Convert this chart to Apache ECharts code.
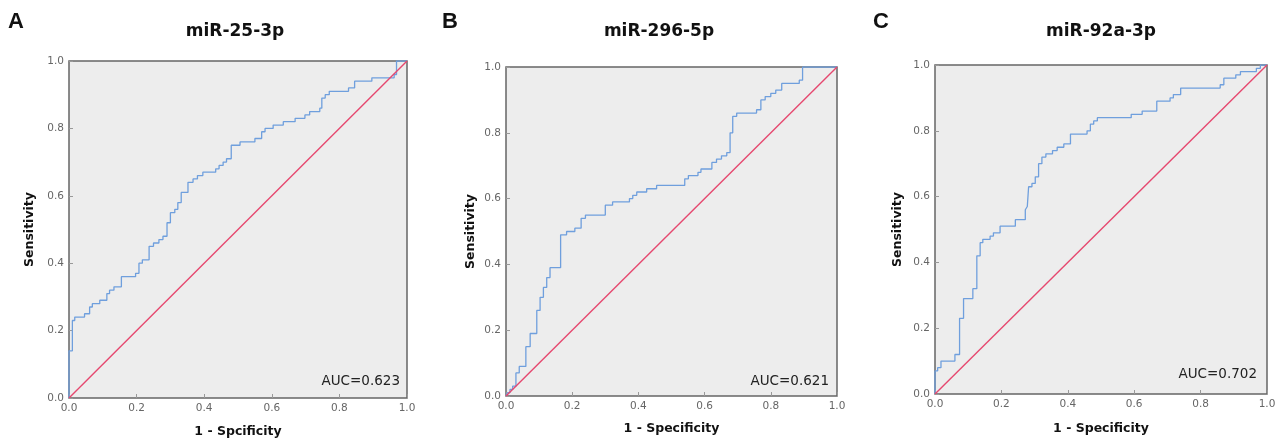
<!DOCTYPE html>
<html><head><meta charset="utf-8">
<script src="https://cdn.jsdelivr.net/npm/echarts@6/dist/echarts.min.js"></script>
<style>html,body{margin:0;padding:0;background:#fff}#c{width:1282px;height:443px}</style>
</head><body><div id="c"></div>
<script>
// ---- data ----
const fprA = [0, 0, 0.010, 0.017, 0.046, 0.061, 0.069, 0.091, 0.112, 0.120,
  0.133, 0.155, 0.197, 0.207, 0.217, 0.237, 0.250, 0.266, 0.278, 0.290,
  0.300, 0.313, 0.322, 0.332, 0.352, 0.367, 0.380, 0.396, 0.434, 0.444,
  0.456, 0.466, 0.480, 0.506, 0.550, 0.570, 0.580, 0.604, 0.634, 0.669,
  0.698, 0.712, 0.742, 0.748, 0.758, 0.770, 0.827, 0.845, 0.896, 0.962,
  0.969, 1.0];
const tprA = [0, 0.14, 0.23, 0.24, 0.25, 0.27, 0.28, 0.29, 0.31, 0.32,
  0.33, 0.36, 0.37, 0.40, 0.41, 0.45, 0.46, 0.47, 0.48, 0.52,
  0.55, 0.56, 0.58, 0.61, 0.64, 0.65, 0.66, 0.67, 0.68, 0.69,
  0.70, 0.71, 0.75, 0.76, 0.77, 0.79, 0.80, 0.81, 0.82, 0.83,
  0.84, 0.85, 0.86, 0.89, 0.90, 0.91, 0.92, 0.94, 0.95, 0.96,
  1.0, 1.0];

const fprB = [0, 0.004, 0.012, 0.020, 0.030, 0.040, 0.060, 0.073, 0.093, 0.103,
  0.113, 0.123, 0.133, 0.165, 0.183, 0.208, 0.227, 0.240, 0.300, 0.322,
  0.373, 0.383, 0.395, 0.425, 0.455, 0.540, 0.551, 0.580, 0.589, 0.622,
  0.636, 0.651, 0.667, 0.677, 0.685, 0.697, 0.757, 0.770, 0.783, 0.800,
  0.815, 0.833, 0.886, 0.896, 1.0];
const tprB = [0, 0.01, 0.02, 0.03, 0.07, 0.09, 0.15, 0.19, 0.26, 0.30,
  0.33, 0.36, 0.39, 0.49, 0.50, 0.51, 0.54, 0.55, 0.58, 0.59,
  0.60, 0.61, 0.62, 0.63, 0.64, 0.66, 0.67, 0.68, 0.69, 0.71,
  0.72, 0.73, 0.74, 0.80, 0.85, 0.86, 0.87, 0.90, 0.91, 0.92,
  0.93, 0.95, 0.96, 1.0, 1.0];

const fprC = [0, 0, 0.008, 0.018, 0.060, 0.074, 0.086, 0.114, 0.126, 0.136,
  0.144, 0.166, 0.176, 0.196, 0.242, 0.272, 0.278, 0.282, 0.292, 0.302,
  0.312, 0.322, 0.334, 0.354, 0.368, 0.388, 0.408, 0.458, 0.468, 0.478,
  0.489, 0.591, 0.624, 0.668, 0.708, 0.718, 0.740, 0.859, 0.870, 0.906,
  0.920, 0.968, 0.980, 1.0];
const tprC = [0, 0.07, 0.08, 0.10, 0.12, 0.23, 0.29, 0.32, 0.42, 0.46,
  0.47, 0.48, 0.49, 0.51, 0.53, 0.56, 0.57, 0.63, 0.64, 0.66,
  0.70, 0.72, 0.73, 0.74, 0.75, 0.76, 0.79, 0.80, 0.82, 0.83,
  0.84, 0.85, 0.86, 0.89, 0.90, 0.91, 0.93, 0.94, 0.96, 0.97,
  0.98, 0.99, 1.0, 1.0];

const refX = [0, 1];
const refY = [0, 1];

const panelLetters = ['A', 'B', 'C'];
const panelTitles = ['miR-25-3p', 'miR-296-5p', 'miR-92a-3p'];
const xNames = ['1 - Spcificity', '1 - Specificity', '1 - Specificity'];
const yName = 'Sensitivity';
const aucLabels = ['AUC=0.623', 'AUC=0.621', 'AUC=0.702'];
const curves = [[fprA, tprA], [fprB, tprB], [fprC, tprC]];

// ---- layout ----
const layout = [
  {grid: {left: 69, top: 61, width: 338, height: 337}, titleX: 235, letterX: 8, yGap: 33, xGap: 27, aucRight: 7, aucBottom: 17},
  {grid: {left: 506, top: 67, width: 331, height: 329}, titleX: 659, letterX: 442, yGap: 29, xGap: 26, aucRight: 8, aucBottom: 15},
  {grid: {left: 935, top: 65, width: 332, height: 329}, titleX: 1101, letterX: 873, yGap: 31, xGap: 28, aucRight: 10, aucBottom: 20}
];

const BLUE = '#6f9fdd';
const RED = '#e6486f';
const labelFont = 'DejaVu Sans';

const grids = [], xAxes = [], yAxes = [], series = [], graphics = [];
layout.forEach((L, i) => {
  grids.push(Object.assign({show: true, backgroundColor: '#ededed', borderColor: '#666', borderWidth: 1.5}, L.grid));
  const axisCommon = {
    type: 'value', min: 0, max: 1, interval: 0.2, gridIndex: i,
    axisLine: {show: false},
    axisTick: {show: true, inside: true, length: 4, lineStyle: {color: '#999'}},
    splitLine: {show: false},
    axisLabel: {fontSize: 10.5, color: '#666', fontFamily: labelFont, margin: 5, formatter: v => v.toFixed(1)},
    nameLocation: 'middle',
    nameTextStyle: {fontSize: 12.5, fontWeight: 'bold', color: '#111', fontFamily: labelFont}
  };
  xAxes.push(Object.assign({}, axisCommon, {name: xNames[i], nameGap: L.xGap}));
  yAxes.push(Object.assign({}, axisCommon, {name: yName, nameGap: L.yGap}));
  const [fx, ty] = curves[i];
  series.push({
    type: 'line', xAxisIndex: i, yAxisIndex: i, step: 'end', showSymbol: false,
    data: fx.map((x, j) => [x, ty[j]]),
    lineStyle: {color: BLUE, width: 1.3}, clip: true, silent: true
  });
  series.push({
    type: 'line', xAxisIndex: i, yAxisIndex: i, showSymbol: false,
    data: refX.map((x, j) => [x, refY[j]]),
    lineStyle: {color: RED, width: 1.4}, clip: true, silent: true
  });
  graphics.push({
    type: 'text', x: L.letterX, y: 22,
    style: {text: panelLetters[i], font: 'bold 22px "Liberation Sans", Arial', fill: '#111',
      textAlign: 'left', textVerticalAlign: 'middle', align: 'left', verticalAlign: 'middle'}
  });
  graphics.push({
    type: 'text', x: L.titleX, y: 32,
    style: {text: panelTitles[i], font: 'bold 17px "DejaVu Sans"', fill: '#111',
      textAlign: 'center', textVerticalAlign: 'middle', align: 'center', verticalAlign: 'middle'}
  });
  graphics.push({
    type: 'text', x: L.grid.left + L.grid.width - L.aucRight, y: L.grid.top + L.grid.height - L.aucBottom,
    style: {text: aucLabels[i], font: '13.5px "DejaVu Sans"', fill: '#222',
      textAlign: 'right', textVerticalAlign: 'middle', align: 'right', verticalAlign: 'middle'},
    z: 100
  });
});

const chart = echarts.init(document.getElementById('c'), null, {renderer: 'canvas'});
chart.setOption({
  animation: false,
  backgroundColor: '#ffffff',
  grid: grids, xAxis: xAxes, yAxis: yAxes, series: series, graphic: graphics
});
</script></body></html>
